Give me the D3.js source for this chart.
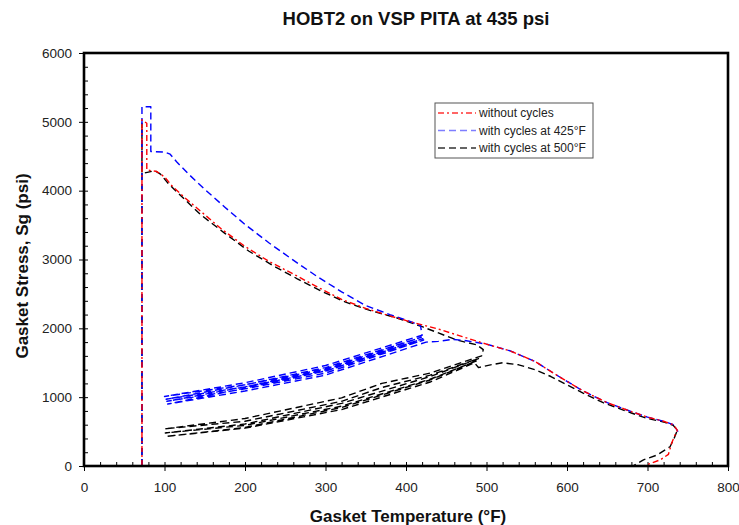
<!DOCTYPE html>
<html>
<head>
<meta charset="utf-8">
<script src="https://cdn.jsdelivr.net/npm/d3@7"></script>
<style>
body { margin: 0; background: #fff; }
text { font-family: Arial, "Liberation Sans", sans-serif; }
</style>
</head>
<body>
<div id="chart"></div>
<script>
// [temperature F, stress psi]
var withoutCycles = [[72,0],[72,5030],[78,4980],[78,4300],[84,4290],[90,4280],[100,4200],[110,4060],[125,3900],[145,3700],[170,3450],[200,3190],[230,2970],[260,2790],[290,2600],[320,2420],[350,2290],[380,2180],[410,2080],[440,1990],[470,1880],[500,1770],[530,1670],[560,1520],[590,1300],[620,1090],[650,920],[680,790],[700,710],[720,650],[732,600],[737,520],[733,420],[730,330],[726,170],[716,90],[695,0]];

var cycles425 = [[72,0],[72,5220],[83,5220],[83,4570],[100,4560],[107,4530],[115,4420],[130,4240],[150,4020],[175,3760],[200,3510],[230,3240],[260,2990],[290,2750],[320,2530],[350,2330],[380,2200],[405,2100],[418,2040],[420,1900],
  [300,1460],[200,1210],[100,1010],[200,1180],[300,1410],[419,1870],
  [300,1430],[200,1180],[102,970],[200,1150],[300,1380],[421,1850],
  [300,1400],[200,1150],[103,940],[200,1120],[300,1350],[422,1830],
  [300,1380],[200,1130],[104,900],[200,1090],[300,1320],[425,1800],
  [440,1810],[458,1840],[475,1820],[490,1790],[500,1770],[530,1670],[560,1520],[590,1300],[620,1090],[650,920],[680,790],[700,710],[720,650],[732,600],[738,500]];

var cycles500 = [[72,0],[72,4980],[72,4250],[80,4270],[88,4290],[95,4240],[105,4100],[120,3930],[145,3650],[175,3380],[205,3120],[235,2910],[265,2720],[295,2540],[325,2380],[355,2260],[389,2150],[421,2020],[463,1830],[488,1760],[496,1690],[494,1600],
  [430,1350],[370,1200],[320,990],[200,690],[100,540],[200,650],[320,940],[370,1140],[430,1320],[490,1560],
  [430,1300],[320,910],[200,610],[101,480],[200,590],[320,870],[430,1260],[488,1530],
  [430,1250],[320,850],[200,560],[102,430],[200,550],[320,820],[430,1220],[485,1500],
  [490,1430],[505,1470],[520,1500],[540,1470],[560,1400],[580,1300],[600,1180],[620,1060],[645,920],[680,770],[700,690],[720,640],[732,590],[737,520],[733,400],[728,280],[712,160],[695,90],[682,0]];

var xTicks = [0,100,200,300,400,500,600,700,800];
var yTicks = [0,1000,2000,3000,4000,5000,6000];
var seriesNames = ["without cycles", "with cycles at 425\u00B0F", "with cycles at 500\u00B0F"];
var seriesColors = ["#ff0000", "#0000ff", "#000000"];
var seriesDash = ["6,3,2,3", "7,4", "7,4"];

var W = 739, H = 525;
var svg = d3.select("#chart").append("svg").attr("width", W).attr("height", H);

var x = d3.scaleLinear().domain([0, 800]).range([84, 728]);
var y = d3.scaleLinear().domain([0, 6000]).range([466, 53]);

// minor ticks (inside)
svg.append("g").attr("transform", "translate(0,466)")
	.call(d3.axisBottom(x).tickValues(d3.range(0, 801, 20)).tickSize(-4).tickFormat(""))
	.call(function(g) { g.select(".domain").remove(); });
svg.append("g").attr("transform", "translate(84,0)")
	.call(d3.axisLeft(y).tickValues(d3.range(0, 6001, 200)).tickSize(-4).tickFormat(""))
	.call(function(g) { g.select(".domain").remove(); });

// major ticks with labels
var xa = svg.append("g").attr("transform", "translate(0,466)")
	.call(d3.axisBottom(x).tickValues(xTicks).tickSize(5).tickPadding(11).tickFormat(d3.format("d")));
var ya = svg.append("g").attr("transform", "translate(84,0)")
	.call(d3.axisLeft(y).tickValues(yTicks).tickSize(5).tickPadding(7).tickFormat(d3.format("d")));
[xa, ya].forEach(function(a) {
	a.select(".domain").remove();
	a.selectAll("text").style("font-size", "13.5px").attr("fill", "#222").style("font-family", "Arial, 'Liberation Sans', sans-serif");
	a.selectAll("line").attr("stroke", "#000");
});

// lines
var line = d3.line().x(function(d) { return x(d[0]); }).y(function(d) { return y(d[1]); });
var drawOrder = [2, 1, 0];
var allSeries = [withoutCycles, cycles425, cycles500];
drawOrder.forEach(function(i) {
	svg.append("path").datum(allSeries[i])
		.attr("d", line)
		.attr("fill", "none")
		.attr("stroke", seriesColors[i])
		.attr("stroke-width", 1.4)
		.attr("stroke-dasharray", seriesDash[i])
		.attr("stroke-linejoin", "round");
});

// frame
svg.append("rect").attr("x", 84).attr("y", 53).attr("width", 644).attr("height", 413)
	.attr("fill", "none").attr("stroke", "#000").attr("stroke-width", 2.6);

// legend
var lg = svg.append("g");
lg.append("rect").attr("x", 435).attr("y", 103).attr("width", 158).attr("height", 55)
	.attr("fill", "#fff").attr("stroke", "#555").attr("stroke-width", 1);
seriesNames.forEach(function(name, i) {
	var yy = 113 + i * 17.5;
	lg.append("line").attr("x1", 438).attr("x2", 476).attr("y1", yy).attr("y2", yy)
		.attr("stroke", seriesColors[i]).attr("stroke-width", 1.4)
		.attr("stroke-dasharray", seriesDash[i]).attr("opacity", i == 1 ? 0.5 : 0.8);
	lg.append("text").attr("x", 479).attr("y", yy + 4).text(name)
		.style("font-size", "12px").attr("fill", "#222");
});

// titles
svg.append("text").attr("x", 416).attr("y", 25).attr("text-anchor", "middle")
	.style("font-size", "18.5px").style("font-weight", "bold").attr("fill", "#111")
	.text("HOBT2 on VSP PITA at 435 psi");
svg.append("text").attr("x", 408).attr("y", 522).attr("text-anchor", "middle")
	.style("font-size", "17px").style("font-weight", "bold").attr("fill", "#111")
	.text("Gasket Temperature (\u00B0F)");
svg.append("text").attr("transform", "translate(28,266) rotate(-90)").attr("text-anchor", "middle")
	.style("font-size", "17px").style("font-weight", "bold").attr("fill", "#111")
	.text("Gasket Stress, Sg (psi)");
</script>
</body>
</html>
